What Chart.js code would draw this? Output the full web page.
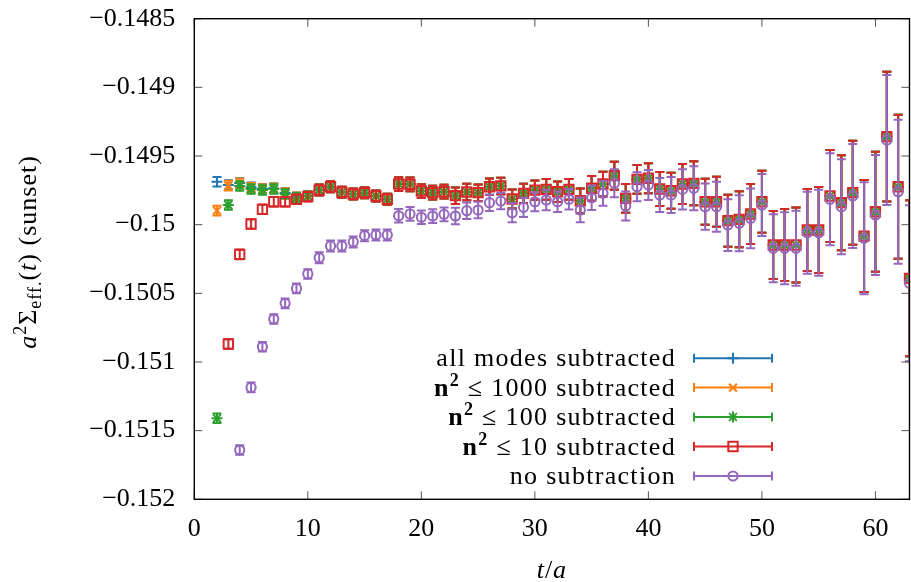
<!DOCTYPE html>
<html>
<head>
<meta charset="utf-8">
<script src="https://cdn.jsdelivr.net/npm/chart.js@4.4.1/dist/chart.umd.min.js"></script>
<style>
  body { margin: 0; background: #fff; }
  canvas { display: block; }
</style>
</head>
<body>
<canvas id="my-chart" width="911" height="582"></canvas>
<script>
// t values, 2..63
const tValues = [2, 3, 4, 5, 6, 7, 8, 9, 10, 11, 12, 13, 14, 15, 16, 17, 18, 19, 20, 21, 22, 23, 24, 25, 26, 27, 28, 29, 30, 31, 32,
  33, 34, 35, 36, 37, 38, 39, 40, 41, 42, 43, 44, 45, 46, 47, 48, 49, 50, 51, 52, 53, 54, 55, 56, 57, 58, 59, 60, 61, 62, 63]

const allModes = [-0.149687, -0.149712, -0.149697, -0.149728, -0.149738, -0.149735, -0.149770, -0.149800, -0.149790,
  -0.149748, -0.149724, -0.149764, -0.149777, -0.149767, -0.149791, -0.149815, -0.149704, -0.149706, -0.149755, -0.149767,
  -0.149760, -0.149789, -0.149762, -0.149767, -0.149724, -0.149718, -0.149813, -0.149772, -0.149748, -0.149743, -0.149760,
  -0.149743, -0.149826, -0.149735, -0.149704, -0.149643, -0.149808, -0.149670, -0.149662, -0.149740, -0.149753, -0.149704,
  -0.149699, -0.149833, -0.149833, -0.149971, -0.149961, -0.149922, -0.149833, -0.150148, -0.150148, -0.150148, -0.150039,
  -0.150039, -0.149791, -0.149840, -0.149767, -0.150083, -0.149906, -0.149359, -0.149724, -0.150391]

const n2le1000 = [-0.149898, -0.149716, -0.149699, -0.149730, -0.149740, -0.149735, -0.149770, -0.149800, -0.149790,
  -0.149748, -0.149724, -0.149764, -0.149777, -0.149767, -0.149791, -0.149815, -0.149704, -0.149706, -0.149755, -0.149767,
  -0.149760, -0.149789, -0.149762, -0.149767, -0.149724, -0.149718, -0.149813, -0.149772, -0.149748, -0.149743, -0.149760,
  -0.149743, -0.149826, -0.149735, -0.149704, -0.149643, -0.149808, -0.149670, -0.149662, -0.149740, -0.149753, -0.149704,
  -0.149699, -0.149833, -0.149833, -0.149971, -0.149961, -0.149922, -0.149833, -0.150148, -0.150148, -0.150148, -0.150039,
  -0.150039, -0.149791, -0.149840, -0.149767, -0.150083, -0.149906, -0.149359, -0.149724, -0.150391]

const n2le100 = [-0.151410, -0.149857, -0.149718, -0.149740, -0.149748, -0.149740, -0.149777, -0.149805, -0.149792,
  -0.149748, -0.149724, -0.149764, -0.149777, -0.149767, -0.149791, -0.149815, -0.149704, -0.149706, -0.149755, -0.149767,
  -0.149760, -0.149789, -0.149762, -0.149767, -0.149724, -0.149718, -0.149813, -0.149772, -0.149748, -0.149743, -0.149760,
  -0.149743, -0.149826, -0.149735, -0.149704, -0.149643, -0.149808, -0.149670, -0.149662, -0.149740, -0.149753, -0.149704,
  -0.149699, -0.149833, -0.149833, -0.149971, -0.149961, -0.149922, -0.149833, -0.150148, -0.150148, -0.150148, -0.150039,
  -0.150039, -0.149791, -0.149840, -0.149767, -0.150083, -0.149906, -0.149359, -0.149724, -0.150391]

const n2le10 = [-0.152300, -0.150869, -0.150216, -0.149995, -0.149888, -0.149833, -0.149833, -0.149815, -0.149796,
  -0.149748, -0.149724, -0.149764, -0.149777, -0.149767, -0.149791, -0.149815, -0.149704, -0.149706, -0.149755, -0.149767,
  -0.149760, -0.149789, -0.149762, -0.149767, -0.149724, -0.149718, -0.149813, -0.149772, -0.149748, -0.149743, -0.149760,
  -0.149743, -0.149826, -0.149735, -0.149704, -0.149643, -0.149808, -0.149670, -0.149662, -0.149740, -0.149753, -0.149704,
  -0.149699, -0.149833, -0.149833, -0.149971, -0.149961, -0.149922, -0.149833, -0.150148, -0.150148, -0.150148, -0.150039,
  -0.150039, -0.149791, -0.149840, -0.149767, -0.150083, -0.149906, -0.149359, -0.149724, -0.150391]

const noSubtraction = [-0.153500, -0.152200, -0.151641, -0.151185, -0.150889, -0.150687, -0.150573, -0.150464, -0.150359,
  -0.150241, -0.150155, -0.150155, -0.150126, -0.150080, -0.150075, -0.150075, -0.149935, -0.149922, -0.149946, -0.149937,
  -0.149925, -0.149937, -0.149898, -0.149893, -0.149840, -0.149828, -0.149913, -0.149874, -0.149833, -0.149820, -0.149833,
  -0.149815, -0.149893, -0.149804, -0.149772, -0.149699, -0.149864, -0.149724, -0.149711, -0.149784, -0.149784, -0.149743,
  -0.149735, -0.149869, -0.149869, -0.150003, -0.149990, -0.149954, -0.149857, -0.150172, -0.150172, -0.150172, -0.150059,
  -0.150059, -0.149815, -0.149869, -0.149791, -0.150099, -0.149930, -0.149383, -0.149760, -0.150427]

// statistical errors (same for every series)
const errors = [3.5e-5, 3.5e-5, 3.5e-5, 3.5e-5, 3.5e-5, 3.5e-5, 3.5e-5, 3.5e-5, 3.5e-5,
  4.0e-5, 4.0e-5, 4.0e-5, 4.0e-5, 4.0e-5, 4.0e-5, 4.0e-5, 5.0e-5, 5.0e-5, 5.0e-5, 5.0e-5,
  5.0e-5, 6.0e-5, 6.0e-5, 6.0e-5, 6.0e-5, 6.0e-5, 7.0e-5, 7.0e-5, 7.0e-5, 7.5e-5, 7.5e-5,
  7.5e-5, 9.0e-5, 9.0e-5, 9.0e-5, 1.02e-4, 1.05e-4, 1.05e-4, 1.09e-4, 1.24e-4, 1.31e-4, 1.46e-4,
  1.60e-4, 1.68e-4, 1.82e-4, 1.89e-4, 2.04e-4, 2.18e-4, 2.26e-4, 2.48e-4, 2.62e-4, 2.73e-4, 2.99e-4,
  3.13e-4, 3.35e-4, 3.46e-4, 3.79e-4, 4.08e-4, 4.37e-4, 4.73e-4, 5.24e-4, 5.68e-4]

const seriesLabels = ['all modes subtracted', 'n² ≤ 1000 subtracted', 'n² ≤ 100 subtracted', 'n² ≤ 10 subtracted', 'no subtraction']
const seriesColors = ['#1f77b4', '#ff7f0e', '#2ca02c', '#d62728', '#9467bd']
const seriesValues = [allModes, n2le1000, n2le100, n2le10, noSubtraction]
const pointStyles = ['cross', 'crossRot', 'star', 'rect', 'circle']
const pointSizes = [5.5, 5.5, 5.5, 6.6, 4.6]

const xTicks = [0, 10, 20, 30, 40, 50, 60]
const yTicks = [-0.152, -0.1515, -0.151, -0.1505, -0.15, -0.1495, -0.149, -0.1485]
const yTickLabels = ['\u22120.152', '\u22120.1515', '\u22120.151', '\u22120.1505', '\u22120.15', '\u22120.1495', '\u22120.149', '\u22120.1485']

const SERIF = '"Liberation Serif", "DejaVu Serif", serif'

// error bars drawn just before each dataset's points, so the layering follows the datasets
const errorBars = {
  id: 'errorBars',
  beforeDatasetDraw(chart, args) {
    const ds = chart.data.datasets[args.index]
    const yScale = chart.scales.y
    const area = chart.chartArea
    const ctx = chart.ctx
    ctx.save()
    ctx.beginPath()
    ctx.rect(area.left, area.top, area.right - area.left, area.bottom - area.top)
    ctx.clip()
    ctx.strokeStyle = ds.borderColor
    ctx.lineWidth = 2
    args.meta.data.forEach((pt, i) => {
      const raw = ds.data[i]
      const e = ds.errors[i]
      const top = yScale.getPixelForValue(raw.y + e)
      const bot = yScale.getPixelForValue(raw.y - e)
      ctx.beginPath()
      ctx.moveTo(pt.x, top); ctx.lineTo(pt.x, bot)
      ctx.moveTo(pt.x - 4.5, top); ctx.lineTo(pt.x + 4.5, top)
      ctx.moveTo(pt.x - 4.5, bot); ctx.lineTo(pt.x + 4.5, bot)
      ctx.stroke()
    })
    ctx.restore()
  }
}

function drawPieces(ctx, pieces, x, y, align, spacing) {
  ctx.letterSpacing = (spacing || 0) + 'px'
  let w = 0
  pieces.forEach(p => { ctx.font = p.font; p.w = ctx.measureText(p.text).width; w += p.w })
  let cx = align === 'right' ? x - w : align === 'center' ? x - w / 2 : x
  ctx.textAlign = 'left'
  ctx.textBaseline = 'alphabetic'
  pieces.forEach(p => { ctx.font = p.font; ctx.fillText(p.text, cx, y + (p.dy || 0)); cx += p.w })
  ctx.letterSpacing = '0px'
}

// frame, inward ticks, axis titles and the key
const decorations = {
  id: 'decorations',
  afterDraw(chart) {
    const ctx = chart.ctx
    const a = chart.chartArea
    const xs = chart.scales.x, ys = chart.scales.y
    ctx.save()
    ctx.strokeStyle = '#555'
    ctx.lineWidth = 1
    ctx.beginPath()
    xTicks.forEach(v => {
      const px = xs.getPixelForValue(v)
      ctx.moveTo(px, a.bottom); ctx.lineTo(px, a.bottom - 8)
      ctx.moveTo(px, a.top); ctx.lineTo(px, a.top + 8)
    })
    yTicks.forEach(v => {
      const py = ys.getPixelForValue(v)
      ctx.moveTo(a.left, py); ctx.lineTo(a.left + 8, py)
      ctx.moveTo(a.right, py); ctx.lineTo(a.right - 8, py)
    })
    ctx.stroke()
    ctx.strokeStyle = '#000'
    ctx.lineWidth = 1.4
    ctx.strokeRect(a.left, a.top, a.right - a.left, a.bottom - a.top)

    ctx.fillStyle = '#000'
    // x title
    drawPieces(ctx, [
      { text: 't', font: 'italic 26px ' + SERIF },
      { text: '/', font: '26px ' + SERIF },
      { text: 'a', font: 'italic 26px ' + SERIF }
    ], (a.left + a.right) / 2, 578, 'center', 1)

    // y title
    ctx.save()
    ctx.translate(36, 252)
    ctx.rotate(-Math.PI / 2)
    drawPieces(ctx, [
      { text: 'a', font: 'italic 26px ' + SERIF },
      { text: '2', font: '18px ' + SERIF, dy: -10 },
      { text: '\u03a3', font: '26px ' + SERIF },
      { text: 'eff.', font: '18px ' + SERIF, dy: 5 },
      { text: '(', font: '26px ' + SERIF },
      { text: 't', font: 'italic 26px ' + SERIF },
      { text: ') (sunset)', font: '26px ' + SERIF }
    ], 0, 0, 'center', 1)
    ctx.restore()

    // key
    const rowY = [358.3, 387.6, 417, 446.5, 476]
    chart.data.datasets.forEach((ds, i) => {
      const y = rowY[i]
      const label = ds.label
      let pieces
      if (label.startsWith('n²')) {
        pieces = [
          { text: 'n', font: 'bold 26px ' + SERIF },
          { text: '2', font: 'bold 18px ' + SERIF, dy: -10 },
          { text: label.slice(2), font: '26px ' + SERIF }
        ]
      } else {
        pieces = [{ text: label, font: '26px ' + SERIF }]
      }
      ctx.fillStyle = '#000'
      drawPieces(ctx, pieces, 676, y + 8, 'right', 1.3)
      ctx.strokeStyle = ds.borderColor
      ctx.lineWidth = 2
      ctx.beginPath()
      ctx.moveTo(694, y); ctx.lineTo(772, y)
      ctx.moveTo(694, y - 4.5); ctx.lineTo(694, y + 4.5)
      ctx.moveTo(772, y - 4.5); ctx.lineTo(772, y + 4.5)
      ctx.stroke()
      ctx.fillStyle = 'rgba(0,0,0,0)'
      ctx.lineWidth = ds.pointBorderWidth
      Chart.helpers.drawPoint(ctx, { pointStyle: ds.pointStyle, radius: ds.pointRadius, borderWidth: ds.pointBorderWidth, rotation: 0 }, 733, y)
    })
    ctx.restore()
  }
}

const datasets = seriesValues.map((vals, i) => ({
  label: seriesLabels[i],
  data: tValues.map((t, j) => ({ x: t, y: vals[j] })),
  errors: errors,
  borderColor: seriesColors[i],
  backgroundColor: 'rgba(0,0,0,0)',
  pointStyle: pointStyles[i],
  pointRadius: pointSizes[i],
  pointBorderWidth: 2,
  pointBackgroundColor: 'rgba(0,0,0,0)',
  showLine: false,
  order: 5 - i
}))

const ctx = document.getElementById('my-chart').getContext('2d')
const chart = new Chart(ctx, {
  type: 'scatter',
  data: { datasets: datasets },
  options: {
    responsive: false,
    animation: false,
    events: [],
    layout: { autoPadding: false, padding: { top: 18.7, right: 1.5, left: 0, bottom: 0 } },
    plugins: { legend: { display: false }, tooltip: { enabled: false } },
    scales: {
      x: {
        type: 'linear', min: 0, max: 63,
        grid: { display: false, drawTicks: false },
        border: { display: false },
        afterBuildTicks: (scale) => { scale.ticks = xTicks.map(v => ({ value: v })) },
        afterFit: (scale) => { scale.height = 82.7; scale.paddingLeft = 0; scale.paddingRight = 0 },
        ticks: { color: '#000', padding: 14, maxRotation: 0, font: { family: SERIF, size: 26 }, callback: (v) => String(v) }
      },
      y: {
        type: 'linear', min: -0.152, max: -0.1485,
        grid: { display: false, drawTicks: false },
        border: { display: false },
        afterBuildTicks: (scale) => { scale.ticks = yTicks.map(v => ({ value: v })) },
        afterFit: (scale) => { scale.width = 194.3; scale.paddingTop = 0; scale.paddingBottom = 0 },
        ticks: { color: '#000', padding: 19, font: { family: SERIF, size: 26 }, callback: (v, i) => yTickLabels[i] }
      }
    }
  },
  plugins: [errorBars, decorations]
})
</script>
</body>
</html>
